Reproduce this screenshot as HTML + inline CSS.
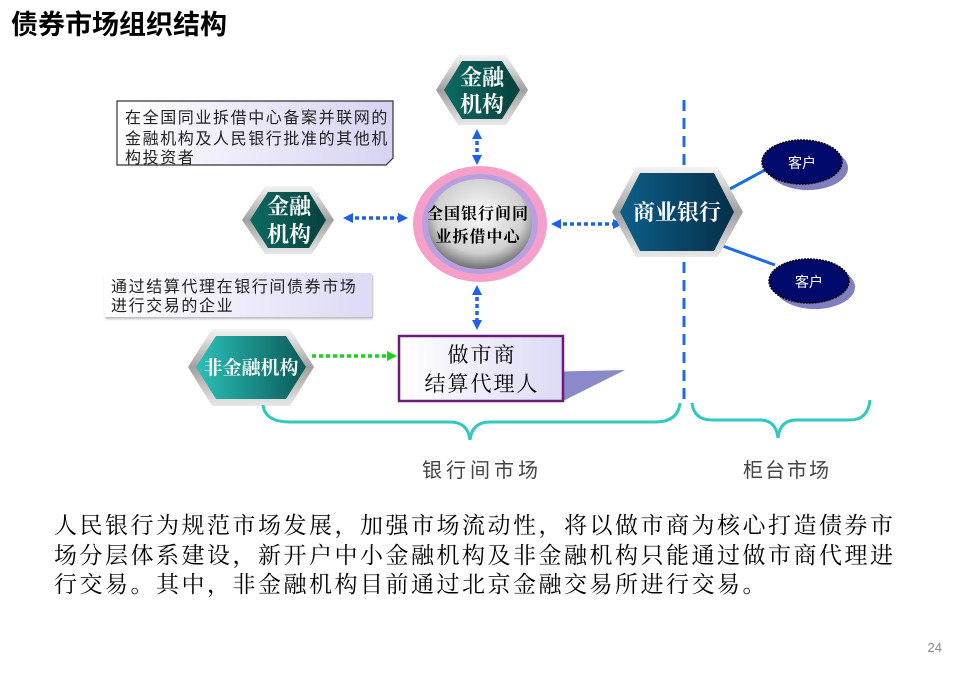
<!DOCTYPE html>
<html><head><meta charset="utf-8"><style>
body{margin:0;width:972px;height:675px;background:#fff;overflow:hidden;font-family:"Liberation Sans","Noto Sans CJK SC",sans-serif;}
svg{position:absolute;left:0;top:0}
text{font-family:"Liberation Sans","Noto Sans CJK SC",sans-serif}
.sf{font-family:"Liberation Serif","Noto Serif CJK SC",serif}
</style></head><body>
<svg width="972" height="675" viewBox="0 0 972 675">
<defs>
<linearGradient id="silver" x1="0" y1="0" x2="0" y2="1"><stop offset="0" stop-color="#f4f4f4"/><stop offset="0.5" stop-color="#a0a0a0"/><stop offset="1" stop-color="#e8e8e8"/></linearGradient>
<linearGradient id="teal" x1="0" y1="0" x2="1" y2="0"><stop offset="0" stop-color="#0d6a62"/><stop offset="1" stop-color="#06403c"/></linearGradient>
<linearGradient id="teal2" x1="0" y1="0" x2="1" y2="0"><stop offset="0" stop-color="#2cc0b8"/><stop offset="1" stop-color="#0a5a58"/></linearGradient>
<linearGradient id="blue" x1="0" y1="0" x2="1" y2="0"><stop offset="0" stop-color="#0d5f88"/><stop offset="1" stop-color="#062f4a"/></linearGradient>
<radialGradient id="grey" cx="0.5" cy="0.4" r="0.6"><stop offset="0" stop-color="#fafafa"/><stop offset="0.7" stop-color="#d0d0d0"/><stop offset="1" stop-color="#707070"/></radialGradient>
<linearGradient id="lav" x1="0" y1="0" x2="1" y2="0"><stop offset="0" stop-color="#ffffff"/><stop offset="1" stop-color="#d6d3f2"/></linearGradient>
<linearGradient id="lav2" x1="0" y1="0" x2="1" y2="0"><stop offset="0" stop-color="#ffffff"/><stop offset="1" stop-color="#dcdaf5"/></linearGradient>
<marker id="ab" markerUnits="userSpaceOnUse" markerWidth="10" markerHeight="10" refX="5" refY="5" orient="auto-start-reverse"><path d="M0,0L10,5L0,10z" fill="#2060e8"/></marker>
<marker id="ag" markerUnits="userSpaceOnUse" markerWidth="10" markerHeight="10" refX="5" refY="5" orient="auto"><path d="M0,0L10,5L0,10z" fill="#20d020"/></marker>
</defs>
<text x="11" y="34" font-size="27" font-weight="bold">债券市场组织结构</text>

<path d="M117,101H393V158L386,165H117Z" fill="url(#lav)" stroke="#333" stroke-width="1.2"/>
<text font-size="16" fill="#222" letter-spacing="1.6"><tspan x="125" y="123">在全国同业拆借中心备案并联网的</tspan><tspan x="125" y="144">金融机构及人民银行批准的其他机</tspan><tspan x="125" y="163">构投资者</tspan></text>
<rect x="104" y="273" width="268" height="44" fill="url(#lav2)" rx="2" style="filter:drop-shadow(1px 2px 1px #bbb)"/>
<text font-size="16" fill="#222" letter-spacing="1.6"><tspan x="111" y="292">通过结算代理在银行间债券市场</tspan><tspan x="111" y="311">进行交易的企业</tspan></text>

<line x1="684" y1="100" x2="684" y2="400" stroke="#1a6ee0" stroke-width="3" stroke-dasharray="11,7"/>

<line x1="477" y1="134" x2="477" y2="160" stroke="#2060e8" stroke-width="3.5" stroke-dasharray="4,3" marker-start="url(#ab)" marker-end="url(#ab)"/>
<line x1="348" y1="218" x2="403" y2="218" stroke="#2060e8" stroke-width="3.5" stroke-dasharray="4,3" marker-start="url(#ab)" marker-end="url(#ab)"/>
<line x1="556" y1="224" x2="618" y2="224" stroke="#2060e8" stroke-width="3.5" stroke-dasharray="4,3" marker-start="url(#ab)" marker-end="url(#ab)"/>
<line x1="477" y1="290" x2="477" y2="325" stroke="#2060e8" stroke-width="3.5" stroke-dasharray="4,3" marker-start="url(#ab)" marker-end="url(#ab)"/>
<line x1="312" y1="356" x2="392" y2="356" stroke="#20d020" stroke-width="3.5" stroke-dasharray="4,3" marker-end="url(#ag)"/>
<line x1="728" y1="190" x2="765" y2="170" stroke="#1a6ee0" stroke-width="3"/>
<line x1="720" y1="245" x2="775" y2="265" stroke="#1a6ee0" stroke-width="3"/>

<g>
<polygon points="458,55 506,55 528,90 506,125 458,125 436,90" fill="url(#silver)"/>
<polygon points="462,61 502,61 520,90 502,119 462,119 444,90" fill="url(#teal)"/>
<text class="sf" x="482" y="85" font-size="22" font-weight="bold" fill="#fff" text-anchor="middle">金融</text>
<text class="sf" x="482" y="112" font-size="22" font-weight="bold" fill="#fff" text-anchor="middle">机构</text>
</g>
<g>
<polygon points="265,186 312,186 334,220 312,254 265,254 242,220" fill="url(#silver)"/>
<polygon points="268,192 309,192 326,220 309,248 268,248 250,220" fill="url(#teal)"/>
<text class="sf" x="289" y="214" font-size="22" font-weight="bold" fill="#fff" text-anchor="middle">金融</text>
<text class="sf" x="289" y="242" font-size="22" font-weight="bold" fill="#fff" text-anchor="middle">机构</text>
</g>
<g>
<polygon points="212,329 290,329 314,367 290,406 212,406 188,367" fill="url(#silver)"/>
<polygon points="216,336 286,336 306,367 286,399 216,399 196,367" fill="url(#teal2)"/>
<text class="sf" x="251" y="374" font-size="19" font-weight="bold" fill="#fff" text-anchor="middle">非金融机构</text>
</g>
<g>
<polygon points="636,167 718,167 743,212 718,257 636,257 612,212" fill="url(#silver)"/>
<polygon points="640,173 714,173 734,212 714,251 640,251 620,212" fill="url(#blue)"/>
<text class="sf" x="677" y="220" font-size="22" font-weight="bold" fill="#fff" text-anchor="middle">商业银行</text>
</g>

<ellipse cx="480" cy="224" rx="67" ry="58" fill="#f4a0c8"/>
<ellipse cx="480" cy="224" rx="58" ry="50" fill="#b8a0e0"/>
<ellipse cx="480" cy="224" rx="52" ry="45" fill="url(#grey)"/>
<text class="sf" x="478" y="219" font-size="16" font-weight="bold" text-anchor="middle" letter-spacing="1">全国银行间同</text>
<text class="sf" x="478" y="242" font-size="16" font-weight="bold" text-anchor="middle" letter-spacing="1">业拆借中心</text>

<polygon points="540,372 625,370 563,401 540,401" fill="#8a8ac8"/>
<rect x="399" y="336" width="164" height="65" fill="url(#lav2)" stroke="#6a1a7a" stroke-width="2.5"/>
<text class="sf" x="482" y="362" font-size="21" text-anchor="middle" letter-spacing="2">做市商</text>
<text class="sf" x="482" y="391" font-size="21" text-anchor="middle" letter-spacing="2">结算代理人</text>

<ellipse cx="808" cy="168" rx="40" ry="22" fill="#8080c0"/>
<ellipse cx="802" cy="162" rx="40" ry="22" fill="#000a6a" stroke="#000" stroke-width="1.5" stroke-dasharray="2,1"/>
<text x="802" y="168" font-size="14" fill="#fff" text-anchor="middle">客户</text>
<ellipse cx="815" cy="287" rx="40" ry="22" fill="#8080c0"/>
<ellipse cx="809" cy="281" rx="40" ry="22" fill="#000a6a" stroke="#000" stroke-width="1.5" stroke-dasharray="2,1"/>
<text x="809" y="287" font-size="14" fill="#fff" text-anchor="middle">客户</text>

<path d="M263,405 Q265,422 290,422 H450 Q468,422 470,440 Q472,422 490,422 H655 Q678,422 680,403" fill="none" stroke="#30c8c0" stroke-width="3"/>
<path d="M692,403 Q694,420 712,420 H760 Q776,420 778,438 Q780,420 796,420 H850 Q868,420 870,400" fill="none" stroke="#30c8c0" stroke-width="3"/>
<text x="482" y="477" font-size="20" fill="#444" text-anchor="middle" letter-spacing="4">银行间市场</text>
<text x="787" y="477" font-size="20" fill="#444" text-anchor="middle" letter-spacing="2">柜台市场</text>

<g class="sf"><text class="sf" font-size="23" fill="#000" letter-spacing="2.5"><tspan x="54" y="533">人民银行为规范市场发展，加强市场流动性，将以做市商为核心打造债券市</tspan><tspan x="54" y="563">场分层体系建设，新开户中小金融机构及非金融机构只能通过做市商代理进</tspan><tspan x="54" y="592">行交易。其中，非金融机构目前通过北京金融交易所进行交易。</tspan></text></g>
<text x="942" y="652" font-size="13" fill="#888" text-anchor="end">24</text>
</svg>
</body></html>
